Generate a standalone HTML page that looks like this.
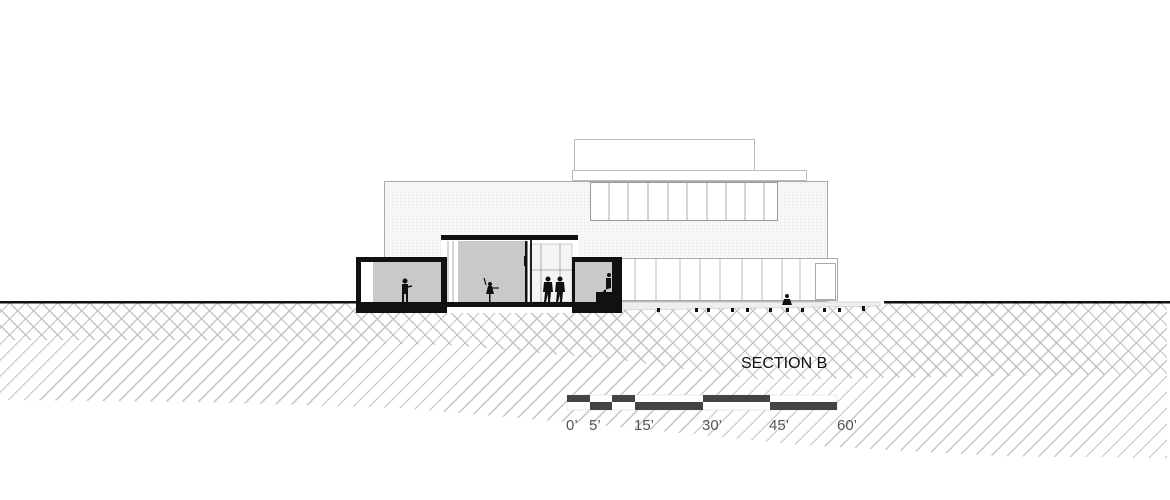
<!DOCTYPE html>
<html><head><meta charset="utf-8"><style>
html,body{margin:0;padding:0;background:#fff;}
.h{position:absolute;left:0;top:0;width:1170px;height:500px;}
#sl{background:repeating-linear-gradient(-45deg,transparent 0 10px,#c4c4c4 10px 11.3px);clip-path:polygon(0 303px,1167px 303px,1167px 458px,1000px 456px,800px 445px,600px 425px,400px 408px,200px 402px,0 400px);}
#bs{background:repeating-linear-gradient(45deg,transparent 0 10px,#c4c4c4 10px 11.3px);clip-path:polygon(0 303px,1167px 303px,1167px 374px,1000px 376px,870px 378px,760px 380px,620px 360px,450px 345px,200px 340px,0 340px);}
svg{position:absolute;left:0;top:0;display:block;}
text{font-family:"Liberation Sans",sans-serif;}
</style></head><body>
<div class="h" id="sl"></div>
<div class="h" id="bs"></div>
<svg width="1170" height="500" viewBox="0 0 1170 500" xmlns="http://www.w3.org/2000/svg">
<defs>
<pattern id="brick" width="4" height="3" patternUnits="userSpaceOnUse">
<rect width="4" height="3" fill="#f7f7f7"/><rect width="1" height="1" fill="#e6e6e6"/>
</pattern>
</defs>
<rect x="574.5" y="139.5" width="180" height="32" fill="#fff" stroke="#bbb"/>
<rect x="572.5" y="170.5" width="234" height="10" fill="#fff" stroke="#bbb"/>
<rect x="384.5" y="181.5" width="443" height="120" fill="url(#brick)" stroke="#aaa"/>
<rect x="590.5" y="182.5" width="187" height="38" fill="#fff" stroke="#999"/>
<g stroke="#aaa">
<line x1="609" y1="183" x2="609" y2="220"/><line x1="628" y1="183" x2="628" y2="220"/><line x1="648" y1="183" x2="648" y2="220"/><line x1="668" y1="183" x2="668" y2="220"/><line x1="687" y1="183" x2="687" y2="220"/><line x1="707" y1="183" x2="707" y2="220"/><line x1="726" y1="183" x2="726" y2="220"/><line x1="745" y1="183" x2="745" y2="220"/><line x1="764" y1="183" x2="764" y2="220"/>
</g>
<rect x="612.5" y="258.5" width="225" height="42" fill="#fff" stroke="#aaa"/>
<g stroke="#bbb">
<line x1="635" y1="259" x2="635" y2="300"/><line x1="656" y1="259" x2="656" y2="300"/><line x1="680" y1="259" x2="680" y2="300"/><line x1="700" y1="259" x2="700" y2="300"/><line x1="720" y1="259" x2="720" y2="300"/><line x1="742" y1="259" x2="742" y2="300"/><line x1="762" y1="259" x2="762" y2="300"/><line x1="782" y1="259" x2="782" y2="300"/><line x1="800" y1="259" x2="800" y2="300"/>
</g>
<rect x="815.5" y="263.5" width="20" height="36" fill="#fff" stroke="#aaa"/>
<path d="M622 302 L880 302 L880 306 L622 310 Z" fill="#eee" stroke="#ccc" stroke-width="0.7"/>
<g fill="#111">
<rect x="657" y="308" width="3" height="4"/><rect x="695" y="308" width="3" height="4"/><rect x="707" y="308" width="3" height="4"/><rect x="731" y="308" width="3" height="4"/><rect x="746" y="308" width="3" height="4"/><rect x="769" y="308" width="3" height="4"/><rect x="786" y="308" width="3" height="4"/><rect x="801" y="308" width="3" height="4"/><rect x="823" y="308" width="3" height="4"/><rect x="838" y="308" width="3" height="4"/><rect x="862" y="306" width="3" height="5"/>
</g>
<rect x="441" y="236" width="137" height="66" fill="#fff"/>
<rect x="458" y="241" width="67" height="61" fill="#c9c9c9"/>
<rect x="530" y="244" width="42" height="58" fill="#f4f4f4" stroke="#bbb" stroke-width="0.7"/>
<g stroke="#999" stroke-width="0.8"><line x1="448" y1="241" x2="448" y2="302"/><line x1="453" y1="241" x2="453" y2="302"/><line x1="541" y1="244" x2="541" y2="302"/><line x1="560" y1="244" x2="560" y2="302"/><line x1="530" y1="270" x2="572" y2="270"/></g>
<rect x="441" y="235" width="137" height="5" fill="#111"/>
<rect x="525" y="241" width="2.5" height="61" fill="#111"/>
<rect x="530" y="240" width="2" height="62" fill="#222"/>
<rect x="524" y="256" width="3" height="10" fill="#111"/>
<rect x="356" y="257" width="91" height="56" fill="#111"/>
<rect x="361" y="262" width="80" height="40" fill="#fff"/>
<rect x="373" y="262" width="68" height="40" fill="#c9c9c9"/>
<rect x="572" y="257" width="50" height="56" fill="#111"/>
<rect x="575" y="262" width="37" height="40" fill="#c9c9c9"/>
<rect x="356" y="302" width="266" height="5" fill="#111"/>
<rect x="447" y="307" width="125" height="6" fill="#fff"/>
<rect x="0" y="301" width="356" height="2.5" fill="#111"/>
<rect x="884" y="301" width="286" height="2.5" fill="#111"/>
<g fill="#111">
<rect x="402" y="284" width="6" height="10"/><circle cx="405" cy="281" r="2.5"/><rect x="402" y="294" width="2" height="8"/><rect x="406" y="294" width="2" height="8"/><line x1="407" y1="287" x2="412" y2="286" stroke="#111" stroke-width="1.5"/>
<circle cx="490" cy="284" r="2"/><path d="M488 286 L492 286 L494 294 L486 294 Z"/><rect x="489" y="294" width="1.5" height="8"/><line x1="486" y1="285" x2="484" y2="278" stroke="#111" stroke-width="1.2"/><line x1="492" y1="288" x2="499" y2="288" stroke="#111" stroke-width="1.2"/>
<circle cx="548" cy="279" r="2.5"/><path d="M544 282 L552 282 L553 292 L551 292 L550 302 L548 302 L548 294 L546 302 L544 302 L545 292 L543 292 Z"/>
<circle cx="560" cy="279" r="2.5"/><path d="M556 282 L564 282 L565 292 L563 292 L562 302 L560 302 L560 294 L558 302 L556 302 L557 292 L555 292 Z"/>
<circle cx="609" cy="275" r="2"/><path d="M606 278 L611 278 L611 288 L604 290 L603 292 L606 292 Z"/>
<rect x="596" y="292" width="17" height="10"/>
<circle cx="787" cy="296" r="2"/><path d="M784 299 L790 299 L792 305 L782 305 Z"/>
</g>
<text x="741" y="368" font-size="16" fill="#111">SECTION B</text>
<rect x="567" y="395" width="270" height="15" fill="#fff" stroke="#ddd" stroke-width="0.6"/>
<g fill="#444">
<rect x="567" y="395" width="23" height="7"/><rect x="612" y="395" width="23" height="7"/><rect x="703" y="395" width="67" height="7"/>
<rect x="590" y="402" width="22" height="8"/><rect x="635" y="402" width="68" height="8"/><rect x="770" y="402" width="67" height="8"/>
</g>
<g font-size="15" fill="#555">
<text x="566" y="430">0’</text><text x="589" y="430">5’</text><text x="634" y="430">15’</text><text x="702" y="430">30’</text><text x="769" y="430">45’</text><text x="837" y="430">60’</text>
</g>
</svg>
</body></html>
